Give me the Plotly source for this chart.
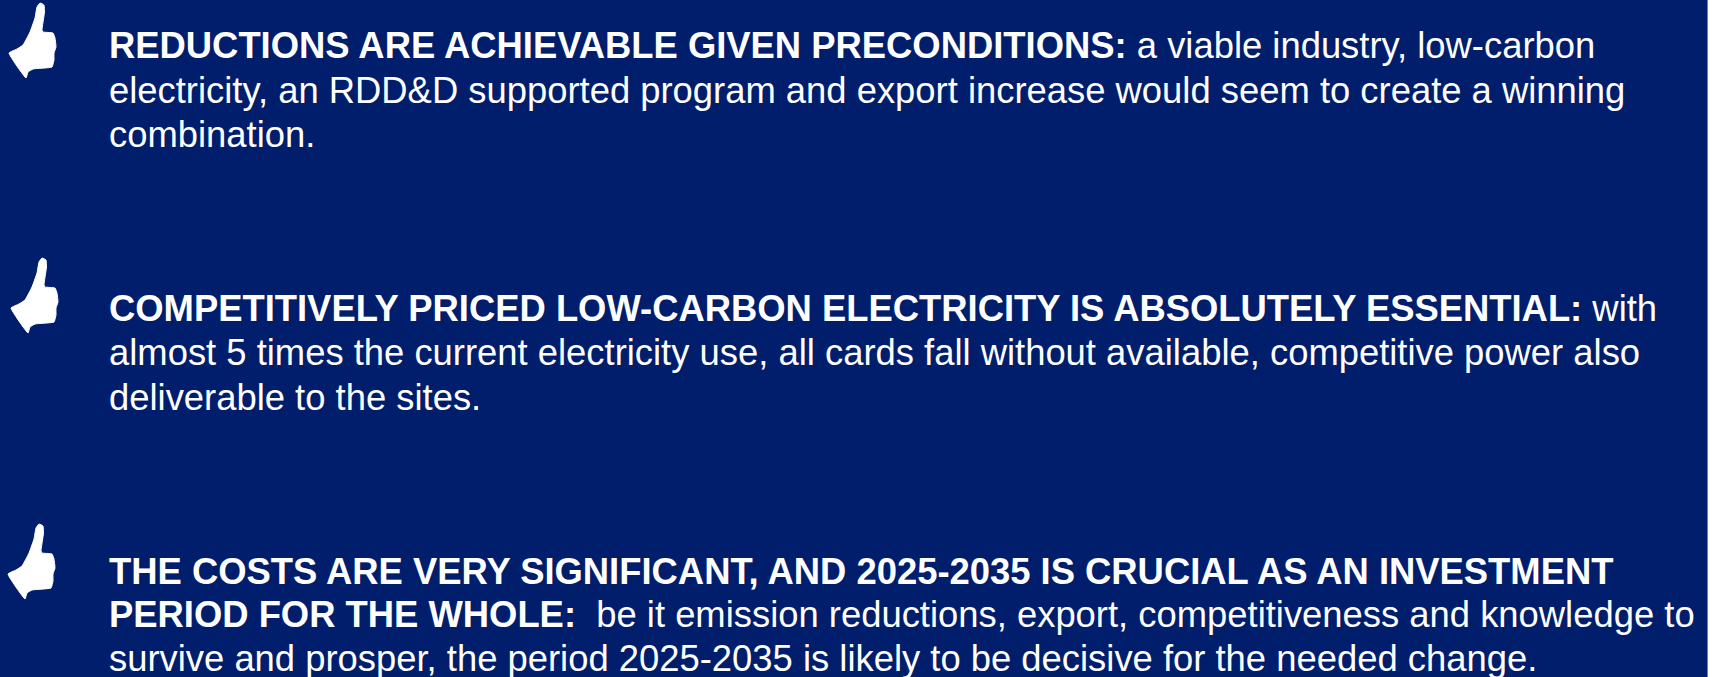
import plotly.graph_objects as go

W, H = 1717, 677
NAVY = "#001e6c"
TEXT_X = 107
FONT_SIZE = 36.4

block_one = [
    "<b>REDUCTIONS ARE ACHIEVABLE GIVEN PRECONDITIONS:</b> a viable industry, low-carbon",
    "electricity, an RDD&amp;D supported program and export increase would seem to create a winning",
    "combination.",
]
block_two = [
    "<b>COMPETITIVELY PRICED LOW-CARBON ELECTRICITY IS ABSOLUTELY ESSENTIAL:</b> with",
    "almost 5 times the current electricity use, all cards fall without available, competitive power also",
    "deliverable to the sites.",
]
block_three = [
    "<b>THE COSTS ARE VERY SIGNIFICANT, AND 2025-2035 IS CRUCIAL AS AN INVESTMENT</b>",
    "<b>PERIOD FOR THE WHOLE:</b>  be it emission reductions, export, competitiveness and knowledge to",
    "survive and prosper, the period 2025-2035 is likely to be decisive for the needed change.",
]
block_lines_y = [[45, 90, 134], [308, 352, 397], [571, 614, 658]]

thumb_x = [40, 44, 44.5, 42, 43, 53, 55, 56, 54, 54, 52, 33, 28, 26, 9, 17, 23, 30, 35, 37]
thumb_y = [3, 5, 12, 30, 32, 33, 38, 47, 53, 60, 67, 69, 72, 78, 53, 49, 45, 32, 18, 7]
thumb_offsets = [(0, 0), (2, 255), (-1, 521)]

fig = go.Figure()

for dx, dy in thumb_offsets:
    fig.add_trace(go.Scatter(
        x=[v + dx for v in thumb_x] + [thumb_x[0] + dx],
        y=[v + dy for v in thumb_y] + [thumb_y[0] + dy],
        mode="lines", fill="toself", fillcolor="white",
        line=dict(color="white", width=1, shape="spline", smoothing=0.35),
        hoverinfo="skip", showlegend=False,
    ))

annotations = []
for lines, ys in zip([block_one, block_two, block_three], block_lines_y):
    for line, y in zip(lines, ys):
        annotations.append(dict(
            x=TEXT_X, y=y, xref="x", yref="y", text=line, showarrow=False,
            xanchor="left", yanchor="middle", align="left",
            font=dict(family="Liberation Sans, Arial, sans-serif", size=FONT_SIZE, color="white"),
        ))

fig.update_layout(
    width=W, height=H, margin=dict(l=0, r=0, t=0, b=0),
    paper_bgcolor="white", plot_bgcolor="white", showlegend=False,
    xaxis=dict(range=[0, W], visible=False, fixedrange=True),
    yaxis=dict(range=[H, 0], visible=False, fixedrange=True),
    annotations=annotations,
    shapes=[
        dict(type="rect", xref="x", yref="y", x0=0, x1=1707, y0=0, y1=H,
             fillcolor=NAVY, line=dict(width=0), layer="below"),
        dict(type="line", xref="x", yref="y", x0=1707.5, x1=1707.5, y0=0, y1=H,
             line=dict(color="#808080", width=1), layer="below"),
    ],
)

fig.write_html(
    "out.html",
    config=dict(displayModeBar=False),
    post_script="document.body.style.margin='0';document.body.style.overflow='hidden';",
)
